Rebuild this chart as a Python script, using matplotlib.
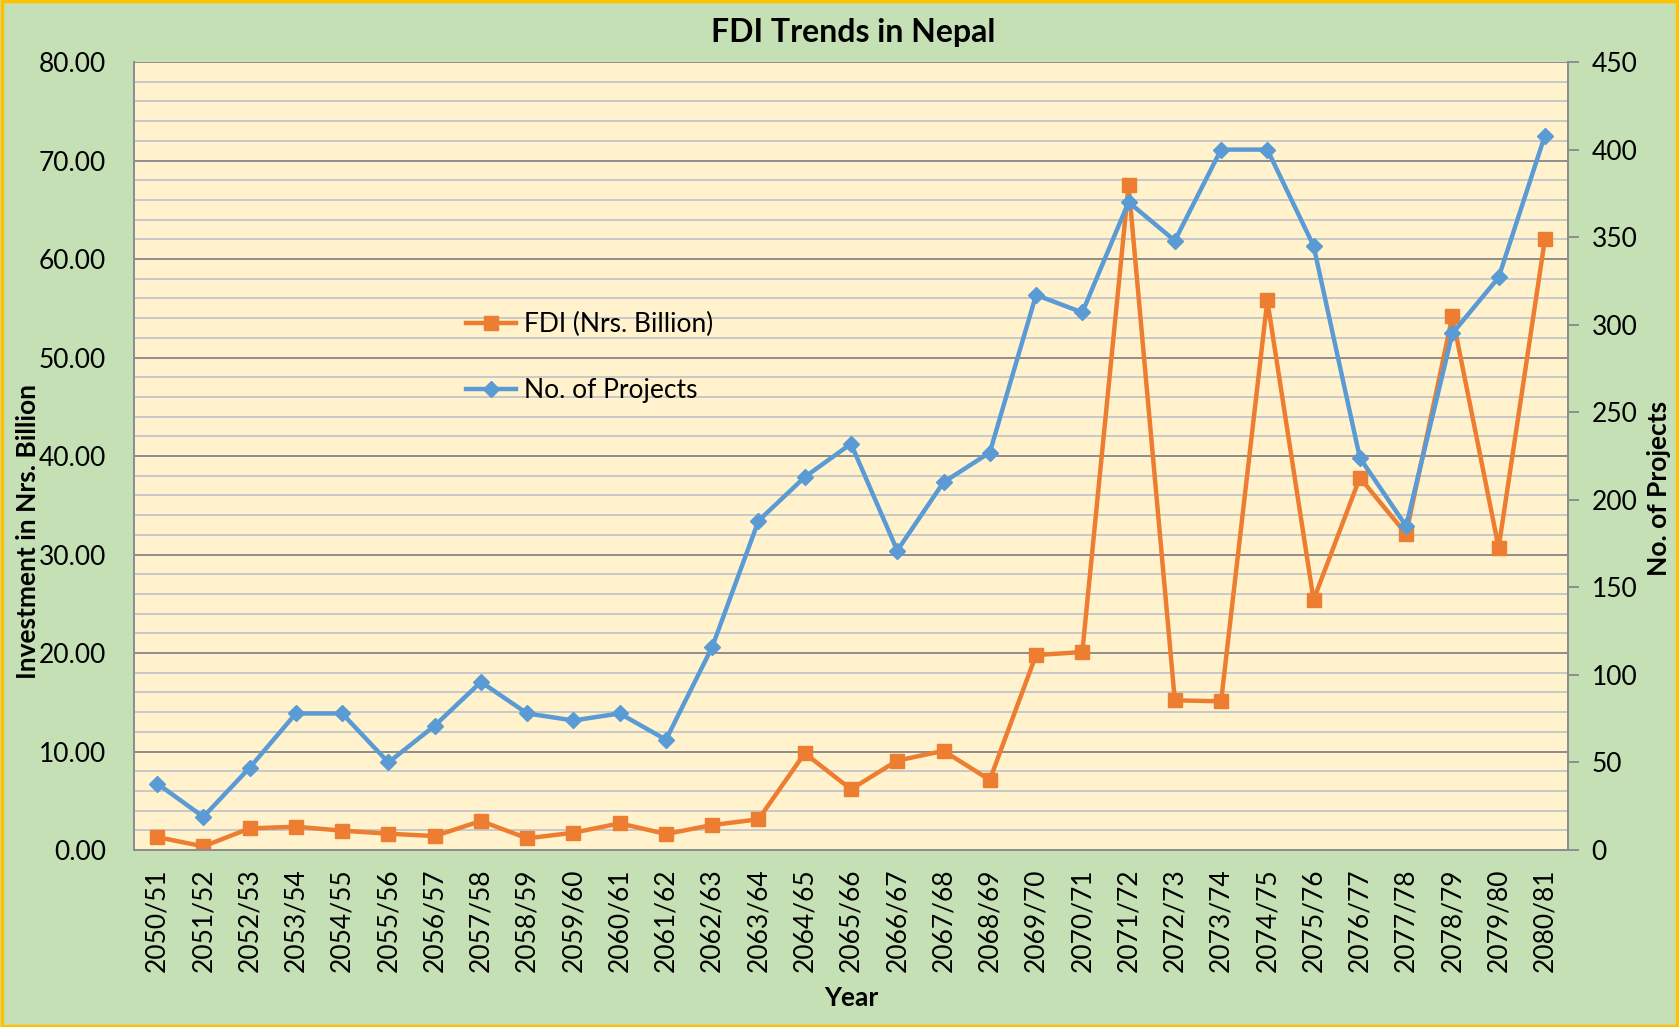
import matplotlib.pyplot as plt
from matplotlib.patches import Rectangle
from matplotlib.ticker import MultipleLocator
import numpy as np

plt.rcParams['font.family'] = ['Lato', 'DejaVu Sans']

years = ['2050/51', '2051/52', '2052/53', '2053/54', '2054/55', '2055/56',
         '2056/57', '2057/58', '2058/59', '2059/60', '2060/61', '2061/62',
         '2062/63', '2063/64', '2064/65', '2065/66', '2066/67', '2067/68',
         '2068/69', '2069/70', '2070/71', '2071/72', '2072/73', '2073/74',
         '2074/75', '2075/76', '2076/77', '2077/78', '2078/79', '2079/80',
         '2080/81']
fdi = [1.32, 0.37, 2.20, 2.37, 1.97, 1.66, 1.42, 2.95, 1.19, 1.76,
       2.71, 1.63, 2.54, 3.12, 9.83, 6.17, 9.08, 10.07, 7.12, 19.80,
       20.10, 67.50, 15.20, 15.10, 55.80, 25.40, 37.80, 32.10, 54.20, 30.70,
       62.00]
projects = [38, 19, 47, 78, 78, 50, 71, 96, 78, 74,
            78, 63, 116, 188, 213, 232, 171, 210, 227, 317,
            307, 370, 348, 400, 400, 345, 224, 185, 295, 327,
            408]

orange = '#ED7D31'
blue = '#5B9BD5'
x = np.arange(len(years))

fig = plt.figure(figsize=(16.79, 10.27), dpi=100, facecolor='#C5E0B4')
ax = fig.add_axes([0.0798, 0.1723, 0.8541, 0.7673])
ax.set_facecolor('#FFF2CC')

# gridlines: every 2 light, every 10 darker
ax.yaxis.set_major_locator(MultipleLocator(10))
ax.yaxis.set_minor_locator(MultipleLocator(2))
ax.grid(which='minor', axis='y', color='#C8C8C8', linewidth=1.4)
ax.grid(which='major', axis='y', color='#8E8E8E', linewidth=1.4)
ax.set_axisbelow(True)

l1, = ax.plot(x, fdi, color=orange, linewidth=3.2, marker='s',
              markersize=10, label='FDI (Nrs. Billion)')
ax.set_ylim(0, 80)
ax.set_xlim(-0.5, len(years) - 0.5)
ax.set_xticks(x)
ax.set_xticklabels(years, rotation=90, fontsize=19)
ax.tick_params(axis='x', length=0, pad=13)
ax.tick_params(axis='y', which='both', length=0, pad=20, labelsize=19)
ax.set_yticks(np.arange(0, 81, 10))
ax.set_yticklabels(['%.2f' % v for v in np.arange(0, 81, 10)])
ax.set_xlabel('Year', fontsize=19, fontweight='bold', labelpad=10)
ax.set_ylabel('Investment in Nrs. Billion', fontsize=19, fontweight='bold')
ax.yaxis.set_label_coords(-0.0656, 0.404)

ax2 = ax.twinx()
l2, = ax2.plot(x, projects, color=blue, linewidth=3.2, marker='D',
               markersize=8, label='No. of Projects')
ax2.set_ylim(0, 450)
ax2.set_yticks(np.arange(0, 451, 50))
ax2.tick_params(axis='y', length=8, width=1.4, color='#8E8E8E', pad=9,
                labelsize=19)
ax2.set_ylabel('No. of Projects', fontsize=19, fontweight='bold')
ax2.yaxis.set_label_coords(1.055, 0.459)

for a in (ax, ax2):
    a.spines['top'].set_visible(False)
    for s in ('left', 'right', 'bottom'):
        a.spines[s].set_color('#8E8E8E')
        a.spines[s].set_linewidth(1.4)

ax.legend(handles=[l1, l2], loc='center left',
          bbox_to_anchor=(0.215, 0.625), frameon=False, fontsize=19,
          handlelength=1.9, labelspacing=1.55, handletextpad=0.3)

fig.suptitle('FDI Trends in Nepal', fontsize=23, fontweight='bold',
             x=0.508, y=0.982)

fig.patches.append(Rectangle((0.001, 0.001), 0.998, 0.998,
                             transform=fig.transFigure, fill=False,
                             edgecolor='#FFC000', linewidth=2.5))

fig.savefig('out.png', dpi=100, facecolor=fig.get_facecolor())
